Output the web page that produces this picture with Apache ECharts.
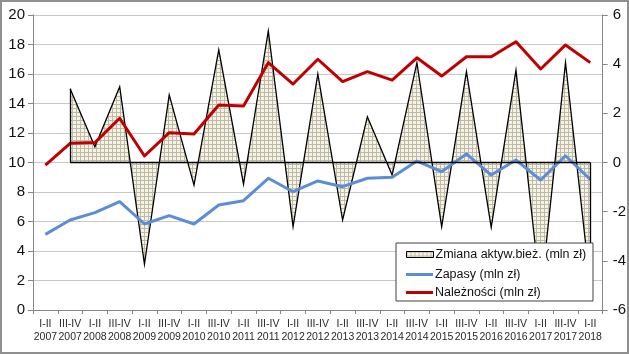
<!DOCTYPE html>
<html>
<head>
<meta charset="utf-8">
<script src="https://cdn.jsdelivr.net/npm/echarts@6/dist/echarts.min.js"></script>
<style>
html,body{margin:0;padding:0;background:#fff;}
#chart{position:absolute;left:0;top:0;width:629px;height:354px;}
#frame{position:absolute;left:0;top:0;width:629px;height:354px;box-sizing:border-box;border:2px solid #8f8f8f;pointer-events:none;}
</style>
</head>
<body>
<div id="chart"></div>
<div id="frame"></div>
<script>
const periods = ['I-II','III-IV'];
const years = [2007,2008,2009,2010,2011,2012,2013,2014,2015,2016,2017,2018];
const categories = [];
years.forEach(y => periods.forEach(p => { if (!(y === 2018 && p === 'III-IV')) categories.push(p + '\n' + y); }));

const leftTicks = { min: 0, max: 20, interval: 2 };
const rightTicks = { min: -6, max: 6, interval: 2 };

const zmiana = [null, 3.0, 0.64, 3.08, -4.14, 2.75, -0.92, 4.58, -0.88, 5.35, -2.61, 3.6, -2.34, 1.86, -0.51, 4.06, -2.61, 3.7, -2.64, 3.76, -5.4, 4.06, -5.0];
const zapasy = [5.13, 6.1, 6.6, 7.34, 5.83, 6.4, 5.83, 7.12, 7.41, 8.93, 8.02, 8.75, 8.36, 8.93, 9.0, 10.1, 9.38, 10.58, 9.15, 10.17, 8.81, 10.46, 8.85];
const naleznosci = [9.83, 11.3, 11.35, 13.0, 10.44, 12.02, 11.93, 13.9, 13.83, 16.77, 15.32, 17.0, 15.48, 16.16, 15.59, 17.1, 15.86, 17.17, 17.17, 18.19, 16.34, 17.97, 16.77];

const names = ['Zmiana aktyw.bież. (mln zł)', 'Zapasy (mln zł)', 'Należności (mln zł)'];

// hatch pattern
const pc = document.createElement('canvas');
pc.width = 4; pc.height = 4;
const ctx = pc.getContext('2d');
ctx.fillStyle = '#f7f3e2';
ctx.fillRect(0,0,4,4);
ctx.fillStyle = '#bdbaac';
ctx.fillRect(0,0,4,1);
ctx.fillRect(0,0,1,4);
const hatch = { image: pc, repeat: 'repeat' };

let firstI = zmiana.findIndex(v => v !== null);
let lastI = zmiana.length - 1;
const outline = [
  [{coord:[categories[firstI], 0]}, {coord:[categories[lastI], 0]}],
  [{coord:[categories[firstI], 0]}, {coord:[categories[firstI], zmiana[firstI]]}],
  [{coord:[categories[lastI], 0]}, {coord:[categories[lastI], zmiana[lastI]]}]
];

const font = "'Liberation Sans', Arial, sans-serif";
const chart = echarts.init(document.getElementById('chart'), null, {renderer:'canvas'});
chart.setOption({
  animation: false,
  backgroundColor: '#fff',
  grid: { left: 33, right: 26, top: 15, bottom: 44, containLabel: false },
  xAxis: {
    type: 'category',
    data: categories,
    boundaryGap: true,
    axisLine: { lineStyle: { color: '#868686', width: 1 } },
    axisTick: { show: true, length: 4, lineStyle: { color: '#868686' }, alignWithLabel: false },
    axisLabel: { interval: 0, color: '#2a2a2a', fontSize: 10.5, fontFamily: font, lineHeight: 13, margin: 8 }
  },
  yAxis: [
    {
      type: 'value', min: leftTicks.min, max: leftTicks.max, interval: leftTicks.interval,
      axisLine: { show: true, lineStyle: { color: '#868686' } },
      axisTick: { show: true, length: 5, lineStyle: { color: '#868686' } },
      axisLabel: { color: '#111', fontSize: 15, fontFamily: font, margin: 8 },
      splitLine: { show: true, lineStyle: { color: '#c8c8c8', width: 1 } }
    },
    {
      type: 'value', min: rightTicks.min, max: rightTicks.max, interval: rightTicks.interval,
      position: 'right',
      axisLine: { show: true, lineStyle: { color: '#868686' } },
      axisTick: { show: true, length: 5, lineStyle: { color: '#868686' } },
      axisLabel: { color: '#111', fontSize: 15, fontFamily: font, margin: 10 },
      splitLine: { show: false }
    }
  ],
  graphic: [{
    type: 'rect', z: 40, zlevel: 0,
    shape: { x: 396, y: 243, width: 197, height: 58 },
    style: { fill: '#fff', stroke: '#404040', lineWidth: 1 }
  }],
  legend: [
    {
      z: 50, left: 401, top: 243, orient: 'vertical',
      itemWidth: 27, itemHeight: 6, itemGap: 5,
      textStyle: { fontSize: 12.5, fontFamily: font, color: '#111', padding: [0,0,0,-3] },
      data: [{ name: names[0], icon: 'rect', itemStyle: { color: hatch, borderColor: '#000', borderWidth: 1 } }]
    },
    {
      z: 50, left: 401, top: 263, orient: 'vertical',
      itemWidth: 27, itemHeight: 3, itemGap: 5,
      textStyle: { fontSize: 12.5, fontFamily: font, color: '#111', padding: [0,0,0,-3] },
      data: [
        { name: names[1], icon: 'rect', itemStyle: { color: '#5b8ed6' } },
        { name: names[2], icon: 'rect', itemStyle: { color: '#c00000' } }
      ]
    }
  ],
  series: [
    {
      name: names[0], type: 'line', yAxisIndex: 1, data: zmiana,
      symbol: 'none', connectNulls: false,
      lineStyle: { color: '#000', width: 1.3, join: 'miter' },
      itemStyle: { color: '#000' },
      areaStyle: { color: hatch, opacity: 1, origin: 0 },
      z: 2,
      markLine: {
        silent: true, symbol: 'none', label: { show: false },
        lineStyle: { color: '#000', width: 1.3, type: 'solid' },
        data: outline, animation: false
      }
    },
    {
      name: names[1], type: 'line', yAxisIndex: 0, data: zapasy,
      symbol: 'none', lineStyle: { color: '#5b8ed6', width: 3, join: 'round' },
      itemStyle: { color: '#5b8ed6' }, z: 3
    },
    {
      name: names[2], type: 'line', yAxisIndex: 0, data: naleznosci,
      symbol: 'none', lineStyle: { color: '#c00000', width: 3, join: 'round' },
      itemStyle: { color: '#c00000' }, z: 4
    }
  ]
});
</script>
</body>
</html>
